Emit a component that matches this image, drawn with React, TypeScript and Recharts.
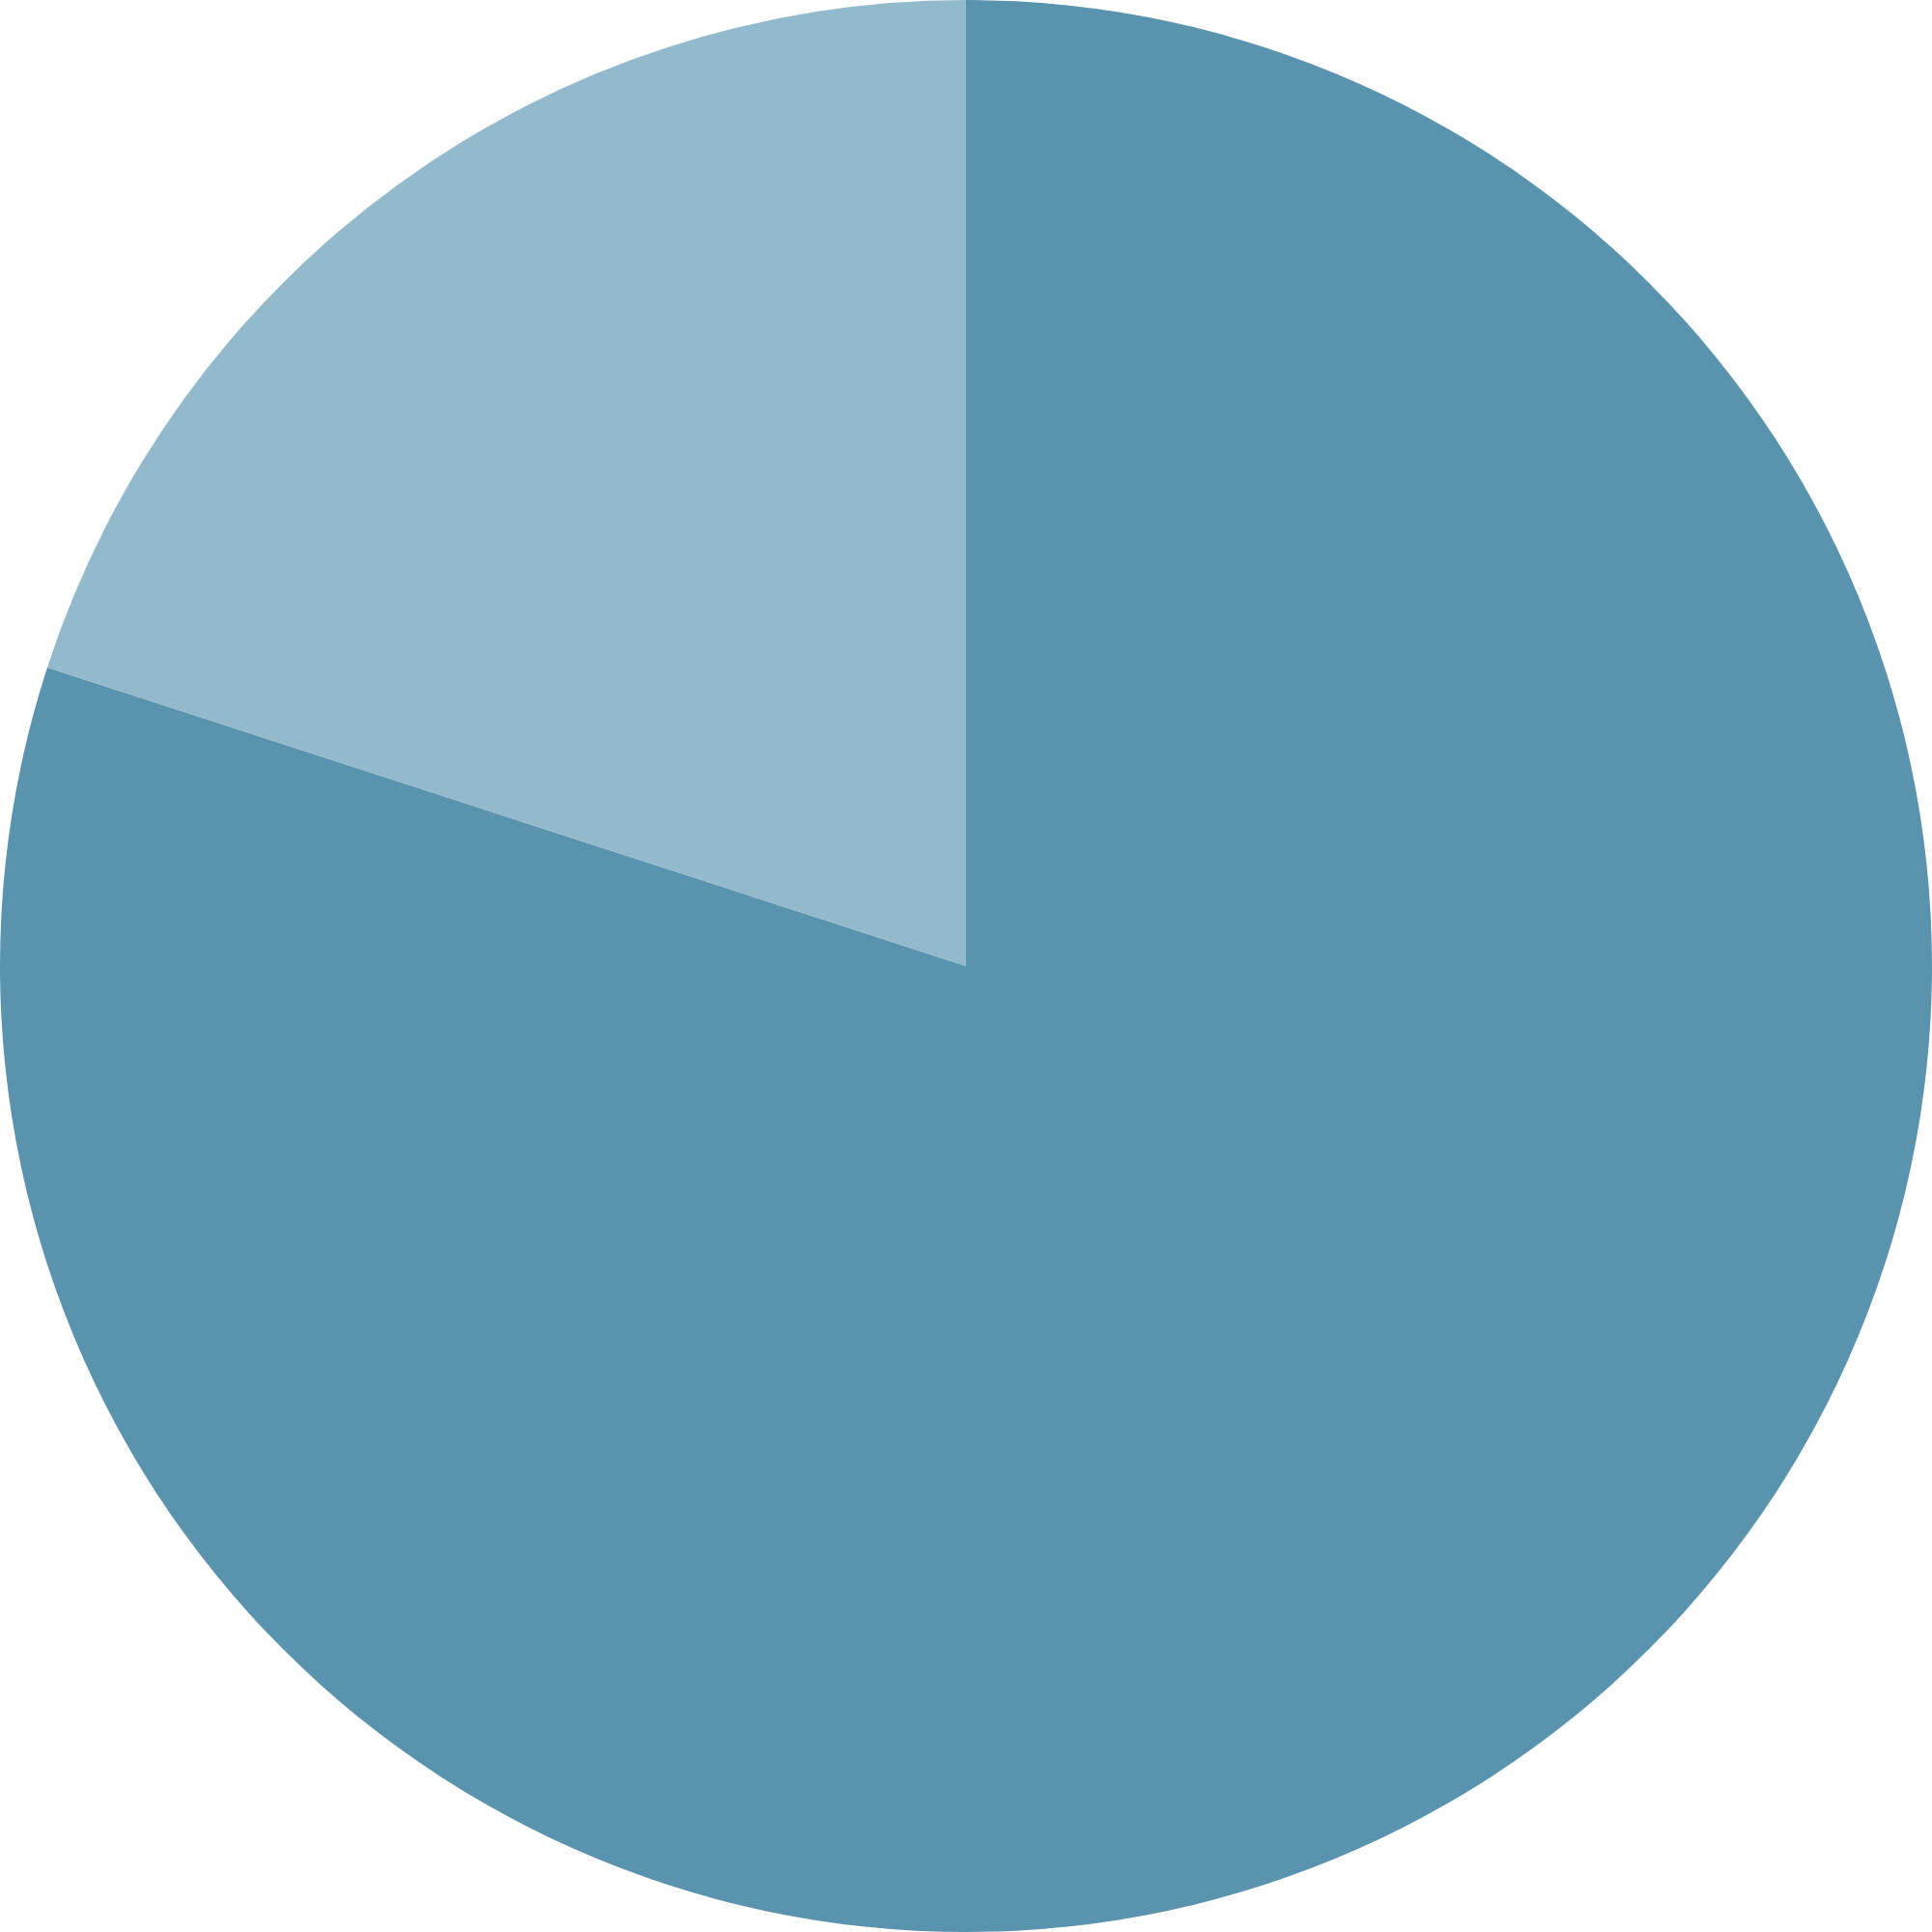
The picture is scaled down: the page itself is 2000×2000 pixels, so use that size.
import { PieChart, Pie, Cell } from 'recharts';

const categories = ['Major', 'Minor'];
const values = [80, 20];
const colors = ['#5A93AE', '#92B9CC'];

const data = categories.map((name, i) => ({ name, value: values[i] }));

export default function App() {
  return (
    <div style={{ position: 'absolute', left: 0, top: 0, width: 2000, height: 2000, background: '#fff' }}>
      <PieChart width={2000} height={2000} margin={{ top: 0, right: 0, bottom: 0, left: 0 }}>
        <Pie
          data={data}
          dataKey="value"
          nameKey="name"
          cx={1000}
          cy={1000}
          outerRadius={1000}
          startAngle={90}
          endAngle={-270}
          stroke="none"
          isAnimationActive={false}
        >
          {data.map((d, i) => (
            <Cell key={d.name} fill={colors[i]} />
          ))}
        </Pie>
      </PieChart>
    </div>
  );
}
